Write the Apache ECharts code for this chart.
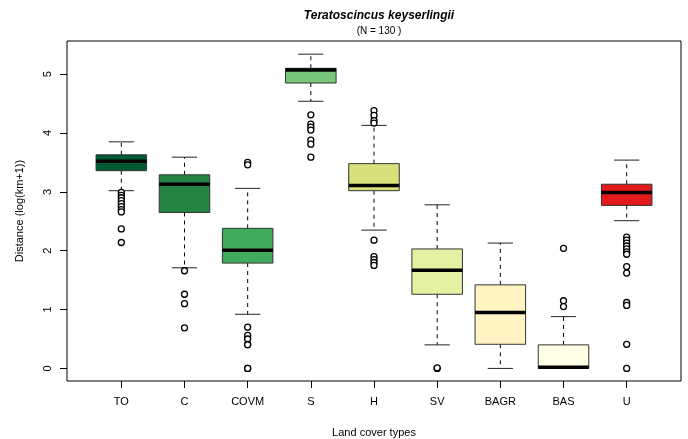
<!DOCTYPE html>
<html>
<head>
<meta charset="utf-8">
<script src="https://cdn.jsdelivr.net/npm/echarts@6/dist/echarts.min.js"></script>
<style>html,body{margin:0;padding:0;background:#fff}#c{width:688px;height:439px}</style>
</head>
<body>
<div id="c"></div>
<script>
const categories = ['TO','C','COVM','S','H','SV','BAGR','BAS','U'];
const boxColors = ['#005a32','#238443','#41ab5d','#78c679','#d9df7a','#e4f1a3','#fff4c2','#ffffe5','#e31a1c'];
const lowerWhisker = [3.02, 1.71, 0.92, 4.54, 2.35, 0.40, 0.00, 0.00, 2.51];
const q1Values     = [3.36, 2.65, 1.79, 4.85, 3.02, 1.26, 0.41, 0.00, 2.77];
const medianValues = [3.52, 3.13, 2.01, 5.07, 3.11, 1.67, 0.95, 0.02, 2.99];
const q3Values     = [3.63, 3.29, 2.38, 5.10, 3.48, 2.03, 1.42, 0.40, 3.13];
const upperWhisker = [3.85, 3.59, 3.06, 5.34, 4.13, 2.78, 2.13, 0.88, 3.54];
const outliers = [
  [2.99, 2.94, 2.90, 2.85, 2.80, 2.75, 2.70, 2.66, 2.37, 2.14],
  [1.66, 1.26, 1.10, 0.69],
  [3.50, 3.46, 0.70, 0.56, 0.50, 0.41, 0.40, 0.00, 0.00],
  [4.31, 4.15, 4.10, 4.05, 3.88, 3.81, 3.59],
  [4.38, 4.30, 4.21, 4.17, 2.18, 1.90, 1.85, 1.80, 1.75],
  [0.00, 0.01],
  [],
  [2.04, 1.15, 1.05],
  [2.23, 2.18, 2.13, 2.08, 2.03, 1.98, 1.94, 1.73, 1.62, 1.12, 1.07, 0.41, 0.00]
];
const yTicks = [0, 1, 2, 3, 4, 5];
const xTicks = [1, 2, 3, 4, 5, 6, 7, 8, 9];

const boxData = categories.map((c, i) => [i + 1, lowerWhisker[i], q1Values[i], medianValues[i], q3Values[i], upperWhisker[i]]);
const outlierData = [];
outliers.forEach((arr, i) => arr.forEach(v => outlierData.push([i + 1, v])));

const FONT = '"Liberation Sans", Arial, Helvetica, sans-serif';

function renderItem(params, api) {
  const x = api.value(0);
  const pLw = api.coord([x, api.value(1)]);
  const pQ1 = api.coord([x, api.value(2)]);
  const pMd = api.coord([x, api.value(3)]);
  const pQ3 = api.coord([x, api.value(4)]);
  const pUw = api.coord([x, api.value(5)]);
  const hw = api.size([0.4, 0])[0];
  const cw = hw / 2;
  const cx = pMd[0];
  const color = boxColors[params.dataIndex];
  return {
    type: 'group',
    children: [
      {type: 'line', shape: {x1: cx, y1: pQ3[1], x2: cx, y2: pUw[1]}, style: {stroke: '#000', lineWidth: 1, lineDash: [4, 4]}},
      {type: 'line', shape: {x1: cx, y1: pQ1[1], x2: cx, y2: pLw[1]}, style: {stroke: '#000', lineWidth: 1, lineDash: [4, 4]}},
      {type: 'line', shape: {x1: cx - cw, y1: pUw[1], x2: cx + cw, y2: pUw[1]}, style: {stroke: '#222', lineWidth: 1}},
      {type: 'line', shape: {x1: cx - cw, y1: pLw[1], x2: cx + cw, y2: pLw[1]}, style: {stroke: '#222', lineWidth: 1}},
      {type: 'rect', shape: {x: cx - hw, y: pQ3[1], width: 2 * hw, height: pQ1[1] - pQ3[1]}, style: {fill: color, stroke: '#333', lineWidth: 1}},
      {type: 'line', shape: {x1: cx - hw, y1: pMd[1], x2: cx + hw, y2: pMd[1]}, style: {stroke: '#000', lineWidth: 3.5}}
    ]
  };
}

const chart = echarts.init(document.getElementById('c'), null, {renderer: 'canvas'});
chart.setOption({
  animation: false,
  backgroundColor: '#fff',
  textStyle: {fontFamily: FONT, color: '#000'},
  title: [
    {text: 'Teratoscincus keyserlingii', left: 374, top: 5, textAlign: 'center',
     textStyle: {fontFamily: FONT, fontSize: 12, fontWeight: 'bold', fontStyle: 'italic', color: '#000'}},
    {text: '(N = 130 )', left: 374, top: 21, textAlign: 'center',
     textStyle: {fontFamily: FONT, fontSize: 10, fontWeight: 'normal', color: '#000'}}
  ],
  grid: {left: 67, right: 7, top: 41, bottom: 58, containLabel: false, outerBoundsMode: 'none',
         show: true, borderColor: '#000', borderWidth: 1, backgroundColor: 'transparent'},
  xAxis: {
    type: 'value', min: 0.14, max: 9.86, position: 'bottom',
    name: 'Land cover types', nameLocation: 'middle', nameGap: 46,
    nameTextStyle: {fontFamily: FONT, fontSize: 11, color: '#000'},
    axisLine: {show: false, onZero: false},
    splitLine: {show: false},
    axisTick: {show: true, inside: false, length: 7, customValues: xTicks, lineStyle: {color: '#000'}},
    axisLabel: {customValues: xTicks, margin: 15, fontFamily: FONT, fontSize: 11, color: '#000',
      formatter: v => categories[Math.round(v) - 1] || ''}
  },
  yAxis: {
    type: 'value', min: -0.214, max: 5.564, position: 'left',
    name: 'Distance (log(km+1))', nameLocation: 'middle', nameGap: 42, nameRotate: 90,
    nameTextStyle: {fontFamily: FONT, fontSize: 11, color: '#000'},
    axisLine: {show: false, onZero: false},
    splitLine: {show: false},
    axisTick: {show: true, inside: false, length: 7, customValues: yTicks, lineStyle: {color: '#000'}},
    axisLabel: {customValues: yTicks, rotate: 90, margin: 14, fontFamily: FONT, fontSize: 11, color: '#000'}
  },
  series: [
    {type: 'custom', renderItem: renderItem, data: boxData, encode: {x: 0, y: [1, 2, 3, 4, 5]}, z: 2},
    {type: 'scatter', data: outlierData, symbol: 'circle', symbolSize: 6, z: 3,
     itemStyle: {color: '#fff', borderColor: '#000', borderWidth: 1.3, opacity: 1}}
  ]
});
</script>
</body>
</html>
